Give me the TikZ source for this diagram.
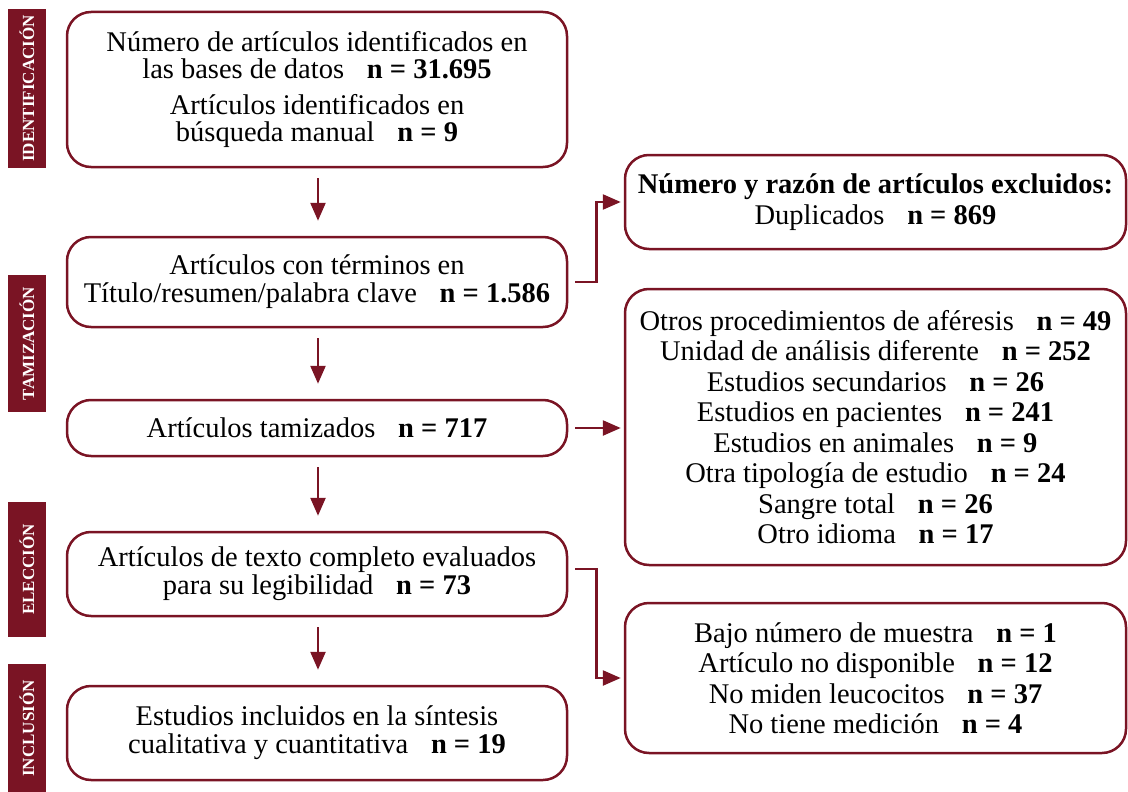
\documentclass[tikz,border=0pt]{standalone}
\usepackage{fontspec}
\setmainfont{Liberation Serif}
\usetikzlibrary{positioning, arrows.meta, calc}
\definecolor{vino}{RGB}{122,20,36}
\newcommand{\nsep}{\hspace{0.8em}}
\tikzset{
	caja/.style={draw=vino, line width=2.5pt, rounded corners=24pt, align=center, minimum width=500pt, inner sep=0pt, font=\fontsize{28.5}{28}\selectfont},
	cajader/.style={caja, minimum width=501pt, font=\fontsize{28.5}{30.5}\selectfont},
	% barras de etapa a la izquierda
	etapa/.style={fill=vino, text=white, minimum height=38pt, inner sep=0pt, rotate=90, font=\fontsize{17}{17}\selectfont\bfseries},
	flecha/.style={draw=vino, line width=2.5pt, -{Triangle[length=18pt,width=15pt]}},
}
\begin{document}
\begin{tikzpicture}[x=1pt, y=1pt]
			\useasboundingbox (0,0) rectangle (1128,-792);
			
			% etapas
			\node (iden) [etapa, minimum width=159pt] at (27,-88.5) {IDENTIFICACIÓN};
			\node (tamiz) [etapa, minimum width=137pt] at (27,-343.5) {TAMIZACIÓN};
			\node (elec) [etapa, minimum width=135pt] at (27,-569.5) {ELECCIÓN};
			\node (incl) [etapa, minimum width=129pt] at (27,-728.5) {INCLUSIÓN};
			
			% columna izquierda
			\node (ident) [caja, minimum height=155pt] at (317,-89.5) {Número de artículos identificados en\\las bases de datos\nsep\textbf{n = 31.695}\\[7pt]Artículos identificados en\\búsqueda manual\nsep\textbf{n = 9}};
			\node (termin) [caja, minimum height=90pt] at (317,-282) {Artículos con términos en\\Título/resumen/palabra clave\nsep\textbf{n = 1.586}};
			\node (tamiza) [caja, minimum height=56pt] at (317,-428) {Artículos tamizados\nsep\textbf{n = 717}};
			\node (legib) [caja, minimum height=84pt] at (317,-574) {Artículos de texto completo evaluados\\para su legibilidad\nsep\textbf{n = 73}};
			\node (sintes) [caja, minimum height=94pt] at (317,-733) {Estudios incluidos en la síntesis\\cualitativa y cuantitativa\nsep\textbf{n = 19}};
			
			% columna derecha
			\node (duplic) [cajader, minimum height=94pt] at (875.5,-202) {\textbf{Número y razón de artículos excluidos:}\\Duplicados\nsep\textbf{n = 869}};
			\node (razones) [cajader, minimum height=276pt] at (875.5,-427) {Otros procedimientos de aféresis\nsep\textbf{n = 49}\\Unidad de análisis diferente\nsep\textbf{n = 252}\\Estudios secundarios\nsep\textbf{n = 26}\\Estudios en pacientes\nsep\textbf{n = 241}\\Estudios en animales\nsep\textbf{n = 9}\\Otra tipología de estudio\nsep\textbf{n = 24}\\Sangre total\nsep\textbf{n = 26}\\Otro idioma\nsep\textbf{n = 17}};
			\node (otras) [cajader, minimum height=150pt] at (875.5,-678) {Bajo número de muestra\nsep\textbf{n = 1}\\Artículo no disponible\nsep\textbf{n = 12}\\No miden leucocitos\nsep\textbf{n = 37}\\No tiene medición\nsep\textbf{n = 4}};
			
			\begin{scope}[flecha, shorten <=10pt, shorten >=15pt]
				\draw (ident.south -| 318,0) -- (termin.north -| 318,0);
				\draw (termin.south -| 318,0) -- (tamiza.north -| 318,0);
				\draw (tamiza.south -| 318,0) -- (legib.north -| 318,0);
				\draw (legib.south -| 318,0) -- (sintes.north -| 318,0);
			\end{scope}
			\begin{scope}[flecha, shorten <=7pt, shorten >=3pt]
				\draw (termin.east) -- ++(28,0) |- (duplic.west);
				\draw (tamiza.east) -- (tamiza.east -| razones.west);
				\draw ($(legib.east)+(0,5)$) -- ++(28,0) |- (otras.west);
			\end{scope}
		\end{tikzpicture}
\end{document}
